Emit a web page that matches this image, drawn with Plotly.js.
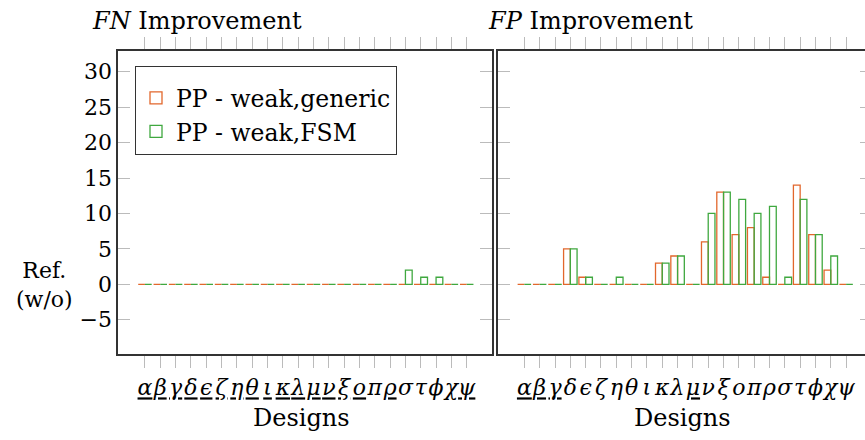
<!DOCTYPE html>
<html>
<head>
<meta charset="utf-8">
<script src="https://cdn.plot.ly/plotly-3.0.1.min.js"></script>
<style>
html,body{margin:0;padding:0;overflow:hidden;background:#fff;}
#chart{width:872px;height:440px;}
</style>
</head>
<body>
<div id="chart"></div>
<script>
// ---- data ----
const categories = ['α','β','γ','δ','ϵ','ζ','η','θ','ι','κ','λ','μ','ν','ξ','ο','π','ρ','σ','τ','ϕ','χ','ψ'];
const fnGeneric  = [0,0,0,0,0,0,0,0,0,0,0,0,0,0,0,0,0,0,0,0,0,0];
const fnFSM      = [0,0,0,0,0,0,0,0,0,0,0,0,0,0,0,0,0,2,1,1,0,0];
const fpGeneric  = [0,0,0,5,1,0,0,0,0,3,4,0,6,13,7,8,1,0,14,7,2,0];
const fpFSM      = [0,0,0,5,1,0,1,0,0,3,4,0,10,13,12,10,11,1,12,7,4,0];
const fnUnderline = [1,1,1,1,1,1,1,1,1,1,1,1,1,1,1,0,1,0,0,0,1,1];
const fpUnderline = [1,1,1,0,0,0,0,0,0,0,0,1,0,0,0,0,0,0,0,0,0,0];
const yTicks = [-5,0,5,10,15,20,25,30];
const seriesNames = ['PP - weak,generic','PP - weak,FSM'];
const colors = ['#E2672C','#3FA83F'];

// ---- layout helpers ----
const W = 872, H = 440;
const px = v => v / W, py = v => 1 - v / H;
const FONT = 'DejaVu Serif';
const fnText = categories.map((c,i) => fnUnderline[i] ? '<u>'+c+'</u>' : c);
const fpText = categories.map((c,i) => fpUnderline[i] ? '<u>'+c+'</u>' : c);

function bar(y, s, xa, ya, show) {
  return {
    type: 'bar', x: categories, y: y, name: seriesNames[s],
    xaxis: xa, yaxis: ya, showlegend: show, legendgroup: 'g'+s,
    marker: {color: 'rgba(255,255,255,0)', line: {color: colors[s], width: 1.3}},
    hoverinfo: 'skip'
  };
}
const data = [
  bar(fnGeneric, 0, 'x', 'y', true),
  bar(fnFSM, 1, 'x', 'y', true),
  bar(fpGeneric, 0, 'x2', 'y2', false),
  bar(fpFSM, 1, 'x2', 'y2', false)
];

const xCommon = {
  type: 'category', range: [-1.74, 22.67], tickvals: categories,
  ticks: 'outside', ticklen: 12, tickwidth: 1, tickcolor: '#bbb',
  showline: true, linecolor: '#333', linewidth: 2, mirror: 'ticks',
  showgrid: false, zeroline: false, tickangle: 0, automargin: false,
  tickfont: {family: FONT, size: 22, style: 'italic', color: '#000'},
  ticklabelstandoff: 1
};
const yCommon = {
  range: [-9.83, 32.92], tickvals: yTicks,
  ticks: 'inside', ticklen: 12, tickwidth: 1, tickcolor: '#bbb',
  showline: true, linecolor: '#333', linewidth: 2, mirror: 'ticks',
  showgrid: false, zeroline: false, automargin: false,
  tickfont: {family: FONT, size: 22, color: '#000'}
};

const layout = {
  width: W, height: H,
  margin: {l: 0, r: 0, t: 0, b: 0},
  paper_bgcolor: '#fff', plot_bgcolor: '#fff',
  barmode: 'group', bargap: 0.12, bargroupgap: 0,
  font: {family: FONT, color: '#000'},
  xaxis: Object.assign({}, xCommon, {domain: [px(118.3), px(492.3)], anchor: 'y', ticktext: fnText}),
  xaxis2: Object.assign({}, xCommon, {domain: [px(497.7), px(871.7)], anchor: 'y2', ticktext: fpText}),
  yaxis: Object.assign({}, yCommon, {domain: [py(354), py(51)], anchor: 'x', ticklabelstandoff: 0}),
  yaxis2: Object.assign({}, yCommon, {domain: [py(354), py(51)], anchor: 'x2', showticklabels: false}),
  showlegend: true,
  legend: {
    x: px(135), y: py(66), xanchor: 'left', yanchor: 'top',
    bgcolor: '#fff', bordercolor: '#333', borderwidth: 1,
    font: {family: FONT, size: 23.5, color: '#000'},
    title: {text: ' ', font: {family: FONT, size: 7}},
    tracegroupgap: 0
  },
  annotations: [
    {text: '<i>FN</i> Improvement', x: px(90), y: py(21), xref: 'paper', yref: 'paper',
     xanchor: 'left', yanchor: 'middle', showarrow: false, font: {family: FONT, size: 24}},
    {text: '<i>FP</i> Improvement', x: px(486), y: py(21), xref: 'paper', yref: 'paper',
     xanchor: 'left', yanchor: 'middle', showarrow: false, font: {family: FONT, size: 24}},
    {text: 'Designs', x: px(301), y: py(418), xref: 'paper', yref: 'paper',
     xanchor: 'center', yanchor: 'middle', showarrow: false, font: {family: FONT, size: 24}},
    {text: 'Designs', x: px(682), y: py(418), xref: 'paper', yref: 'paper',
     xanchor: 'center', yanchor: 'middle', showarrow: false, font: {family: FONT, size: 24}},
    {text: 'Ref.<br>(w/o)', x: px(44), y: py(285), xref: 'paper', yref: 'paper',
     xanchor: 'center', yanchor: 'middle', showarrow: false, align: 'center',
     font: {family: FONT, size: 22}}
  ]
};

Plotly.newPlot('chart', data, layout, {staticPlot: true});
</script>
</body>
</html>
